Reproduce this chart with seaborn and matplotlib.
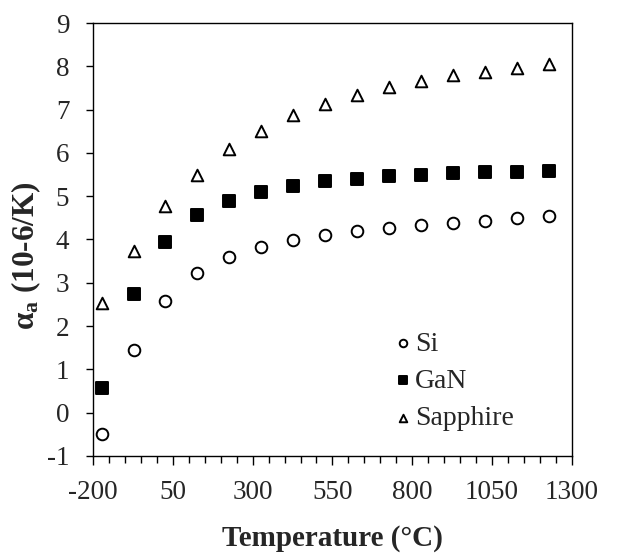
import seaborn as sns
import matplotlib.pyplot as plt
import pandas as pd

# data
temperature = [-173, -73, 27, 127, 227, 327, 427, 527, 627, 727, 827, 927, 1027, 1127, 1227]
si = [-0.50, 1.45, 2.57, 3.22, 3.59, 3.83, 3.99, 4.10, 4.19, 4.26, 4.33, 4.38, 4.43, 4.50, 4.55]
gan = [0.58, 2.74, 3.94, 4.57, 4.88, 5.10, 5.24, 5.34, 5.40, 5.46, 5.50, 5.53, 5.55, 5.57, 5.58]
sapphire = [2.53, 3.74, 4.77, 5.49, 6.08, 6.51, 6.87, 7.14, 7.34, 7.52, 7.67, 7.79, 7.88, 7.95, 8.05]
materials = ["Si", "GaN", "Sapphire"]
x_ticks = [-200, 50, 300, 550, 800, 1050, 1300]
y_ticks = list(range(-1, 10))


def Main():
    sns.set_style("ticks")
    plt.rcParams['font.family'] = ['Liberation Serif', 'DejaVu Serif']
    plt.rcParams['axes.unicode_minus'] = False
    plt.rcParams['mathtext.fontset'] = 'custom'
    plt.rcParams['mathtext.rm'] = 'Liberation Serif'
    plt.rcParams['mathtext.it'] = 'Liberation Serif:italic'
    plt.rcParams['mathtext.bf'] = 'Liberation Serif:bold'

    df = pd.DataFrame({
        "Temperature": temperature * 3,
        "alpha": si + gan + sapphire,
        "Material": [m for m in materials for _ in temperature],
    })

    f, ax = plt.subplots(figsize=(6.39, 5.56), dpi=100)
    f.subplots_adjust(left=0.1455, right=0.895, top=0.9586, bottom=0.180)

    # open circle, filled square, open triangle
    styles = {"Si": ("o", "white"), "GaN": ("s", "black"), "Sapphire": ("^", "white")}
    for name in materials:
        marker, face = styles[name]
        sns.scatterplot(data=df[df.Material == name], x="Temperature", y="alpha",
                        marker=marker, s=70, facecolor=face, edgecolor="black",
                        linewidth=1.4, label=name, ax=ax, zorder=3)

    ax.set_xlim(-200, 1300)
    ax.set_ylim(-1, 9)
    ax.set_xticks(x_ticks)
    ax.set_xticks(range(-200, 1301, 50), minor=True)
    ax.set_yticks(y_ticks)
    ax.tick_params(axis="both", which="major", labelsize=19.5, direction="out",
                   length=6.5, width=1, color="black")
    ax.tick_params(axis="x", which="major", pad=11)
    ax.tick_params(axis="y", which="major", length=5, pad=12)
    ax.tick_params(axis="x", which="minor", direction="out", length=4.7, width=1, color="black")
    for sp in ax.spines.values():
        sp.set_visible(True)
        sp.set_color("black")
        sp.set_linewidth(1)

    ax.set_xlabel("Temperature (°C)", fontsize=21, fontweight="bold", labelpad=14)
    ax.set_ylabel(r"$\mathbf{\alpha_a}$ (10-6/K)", fontsize=22.5, fontweight="bold")
    ax.yaxis.set_label_coords(-0.104, 0.462)

    ax.legend(loc="lower right", bbox_to_anchor=(0.879, 0.058), frameon=False,
              fontsize=20, handlelength=0.6, handletextpad=0.15, markerscale=0.65,
              labelspacing=0.42, borderpad=0, borderaxespad=0)

    f.savefig("out.png", dpi=100)


if __name__ == '__main__':
    Main()
